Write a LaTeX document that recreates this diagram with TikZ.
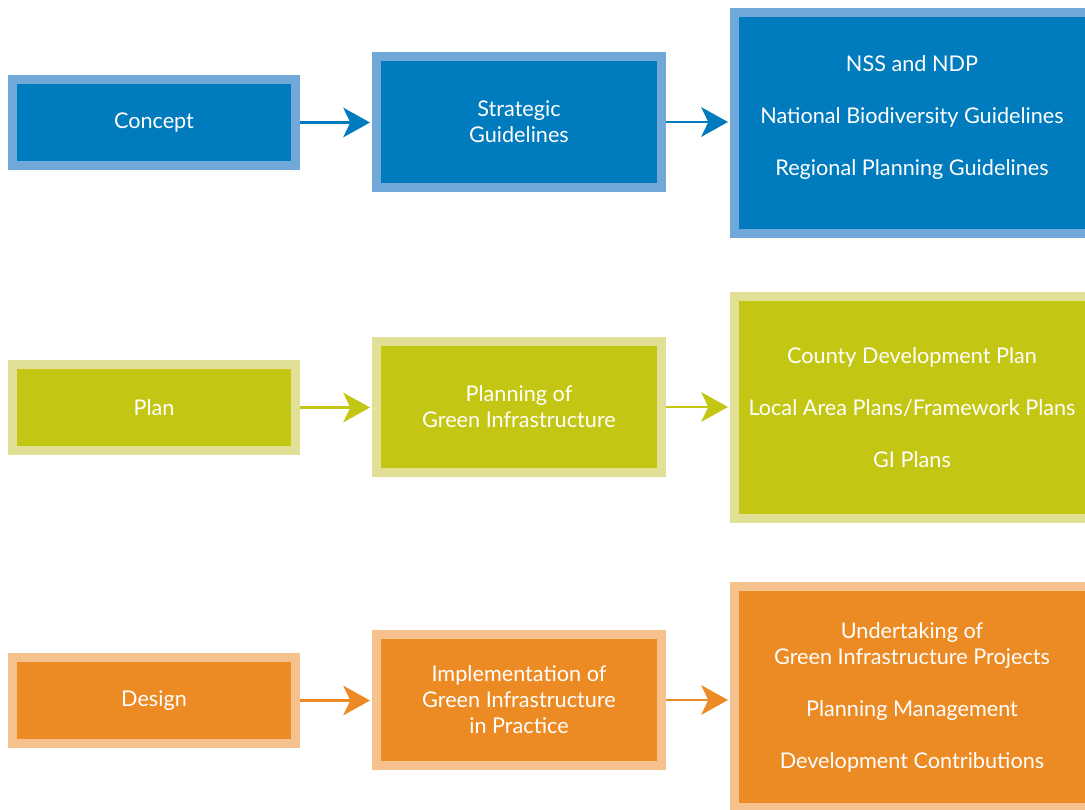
\documentclass[tikz,border=0pt]{standalone}
\usepackage{fontspec}
\setmainfont{Lato}
\usepackage{xcolor}
\usetikzlibrary{arrows.meta,positioning}
\definecolor{bluefill}{HTML}{007BBD}
\definecolor{blueedge}{HTML}{70A8D8}
\definecolor{greenfill}{HTML}{C3C612}
\definecolor{greenedge}{HTML}{E1E096}
\definecolor{orangefill}{HTML}{EC8A24}
\definecolor{orangeedge}{HTML}{F5C18C}
\tikzset{%
	box/.style      = {draw, rectangle, line width = 6.4pt, text = white, align = center,
	                   font = \fontsize{15.4}{18.5}\selectfont, inner sep = 0pt},
	stagebox/.style = {box, minimum width = 7.075cm, minimum height = 2.15cm}, % Left column
	stepbox/.style  = {box, minimum width = 7.125cm, minimum height = 3.275cm}, % Middle column
	listbox/.style  = {box, minimum width = 8.875cm, minimum height = 5.525cm}, % Right column
	flow/.style     = {line width = 2.1pt, -{Stealth[length = 19pt, width = 21pt, inset = 5pt]},
	                   shorten > = 1.4pt}, % Connector
}

\begin{document}
\begin{tikzpicture}[x = 0.025cm, y = -0.025cm]
		\useasboundingbox (0,0) rectangle (1085,809);
		\clip (0,0) rectangle (1085,809);
		% Concept row
		\node[stagebox, fill = bluefill, draw = blueedge] (concept) at (154,122.5) {Concept};
		\node[stepbox, fill = bluefill, draw = blueedge] (strategic) at (519,122) {Strategic\\Guidelines};
		\node[listbox, fill = bluefill, draw = blueedge] (guidelines) at (912,123) {NSS and NDP\\[18.5pt]National Biodiversity Guidelines\\[18.5pt]Regional Planning Guidelines\\[-8.5pt]};
		\draw[flow, bluefill] (concept) -- (concept -| strategic.west);
		\draw[flow, bluefill] (strategic) -- (strategic -| guidelines.west);
		% Plan row
		\node[stagebox, fill = greenfill, draw = greenedge] (plan) at (154,407.5) {Plan};
		\node[stepbox, fill = greenfill, draw = greenedge] (planning) at (519,407) {Planning of\\Green Infrastructure};
		\node[listbox, fill = greenfill, draw = greenedge] (plans) at (912,407.5) {County Development Plan\\[18.5pt]Local Area Plans/Framework Plans\\[18.5pt]GI Plans};
		\draw[flow, greenfill] (plan) -- (plan -| planning.west);
		\draw[flow, greenfill] (planning) -- (planning -| plans.west);
		% Design row
		\node[stagebox, fill = orangefill, draw = orangeedge] (design) at (154,700.5) {Design};
		\node[stepbox, fill = orangefill, draw = orangeedge] (implementation) at (519,700) {Implementation of\\Green Infrastructure\\in Practice};
		\node[listbox, fill = orangefill, draw = orangeedge] (projects) at (912,697) {Undertaking of\\Green Infrastructure Projects\\[18.5pt]Planning Management\\[18.5pt]Development Contributions};
		\draw[flow, orangefill] (design) -- (design -| implementation.west);
		\draw[flow, orangefill] (implementation) -- (implementation -| projects.west);
\end{tikzpicture}
\end{document}
